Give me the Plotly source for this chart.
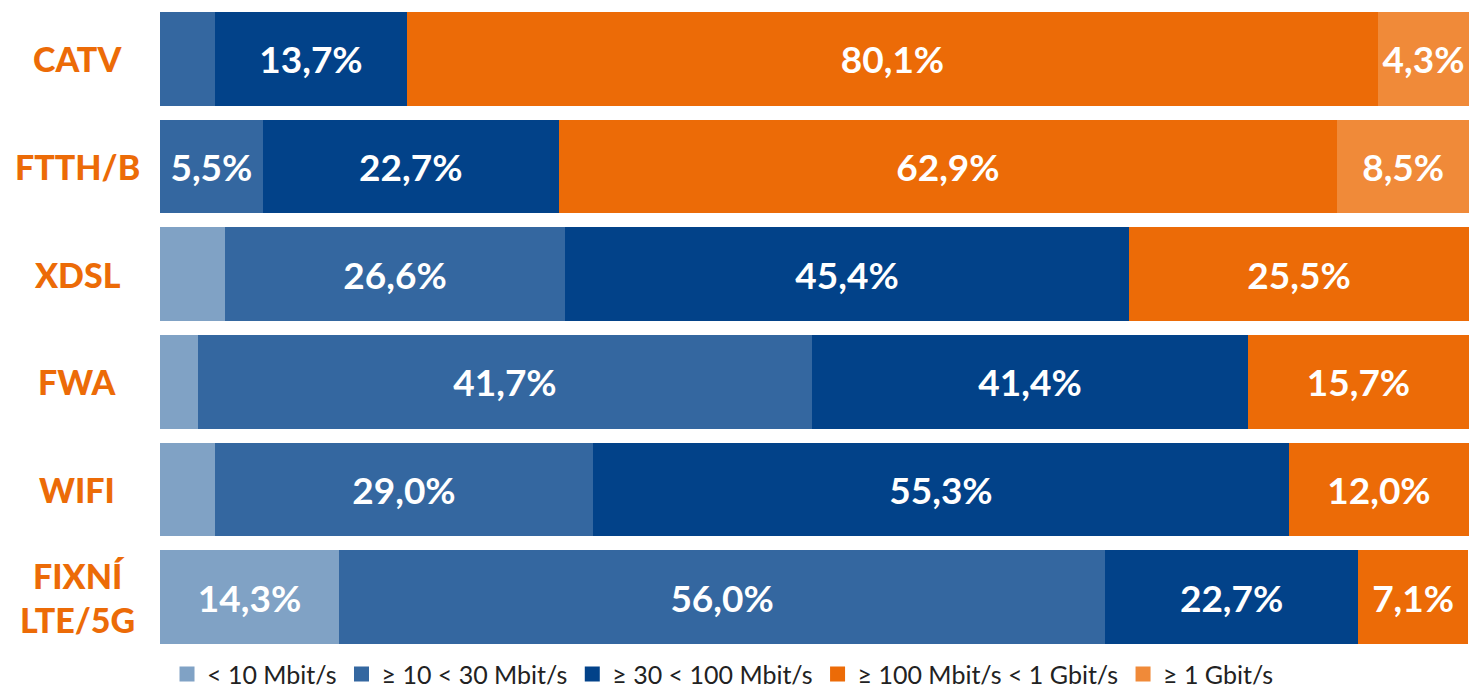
import plotly.graph_objects as go

categories = ["CATV", "FTTH/B", "XDSL", "FWA", "WIFI", "FIXNÍ<br>LTE/5G"]
series_names = ["< 10 Mbit/s", "≥ 10 < 30 Mbit/s", "≥ 30 < 100 Mbit/s",
                "≥ 100 Mbit/s < 1 Gbit/s", "≥ 1 Gbit/s"]
colors = ["#80a2c5", "#3467a0", "#024289", "#ec6b07", "#f08a39"]

# segment lengths as drawn in the picture (% of bar length), per series, per category
lt10 = [0.0, 0.0, 4.97, 2.90, 4.20, 13.68]
s10_30 = [4.20, 7.86, 25.97, 46.91, 28.88, 58.52]
s30_100 = [14.67, 22.60, 43.09, 33.31, 53.17, 19.33]
s100_1g = [74.18, 59.47, 25.97, 16.88, 13.75, 8.40]
ge1g = [6.95, 10.08, 0.0, 0.0, 0.0, 0.0]

# printed labels
lab_lt10 = ["", "", "", "", "", "14,3%"]
lab_10_30 = ["", "5,5%", "26,6%", "41,7%", "29,0%", "56,0%"]
lab_30_100 = ["13,7%", "22,7%", "45,4%", "41,4%", "55,3%", "22,7%"]
lab_100_1g = ["80,1%", "62,9%", "25,5%", "15,7%", "12,0%", "7,1%"]
lab_ge1g = ["4,3%", "8,5%", "", "", "", ""]

values = [lt10, s10_30, s30_100, s100_1g, ge1g]
labels = [lab_lt10, lab_10_30, lab_30_100, lab_100_1g, lab_ge1g]

fig = go.Figure()
for name, col, v, lab in zip(series_names, colors, values, labels):
    fig.add_trace(go.Bar(
        y=categories, x=v, name=name, orientation="h",
        marker=dict(color=col, line=dict(width=0)),
        text=lab, texttemplate="%{text}", textposition="inside",
        insidetextanchor="middle",
        textfont=dict(family="Lato", size=37, color="white", weight=700),
        hoverinfo="skip", showlegend=False, legendgroup=name,
    ))
    # legend entry with a larger square swatch
    fig.add_trace(go.Scatter(
        x=[None], y=[None], mode="markers", name=name, legendgroup=name,
        marker=dict(symbol="square", size=15, color=col), hoverinfo="skip",
    ))

for c in categories:
    fig.add_annotation(
        x=-0.0634, xref="paper", y=c, yref="y", text=c, showarrow=False,
        xanchor="center", yanchor="middle",
        font=dict(family="Lato", size=34, color="#ec6b07", weight=900),
    )

fig.update_layout(
    barmode="stack", bargap=0.132,
    width=1478, height=689,
    margin=dict(l=160, r=9, t=5, b=38),
    plot_bgcolor="white", paper_bgcolor="white",
    uniformtext=dict(mode="show", minsize=37),
    xaxis=dict(range=[0, 100], visible=False, fixedrange=True),
    yaxis=dict(autorange="reversed", visible=False, fixedrange=True),
    showlegend=True,
    legend=dict(orientation="h", xref="container", yref="container",
                x=0.113, xanchor="left", y=0.0548, yanchor="top",
                font=dict(family="Lato", size=25, color="#222222"),
                traceorder="normal", itemclick=False, itemdoubleclick=False),
)

fig.write_html("out.html")
